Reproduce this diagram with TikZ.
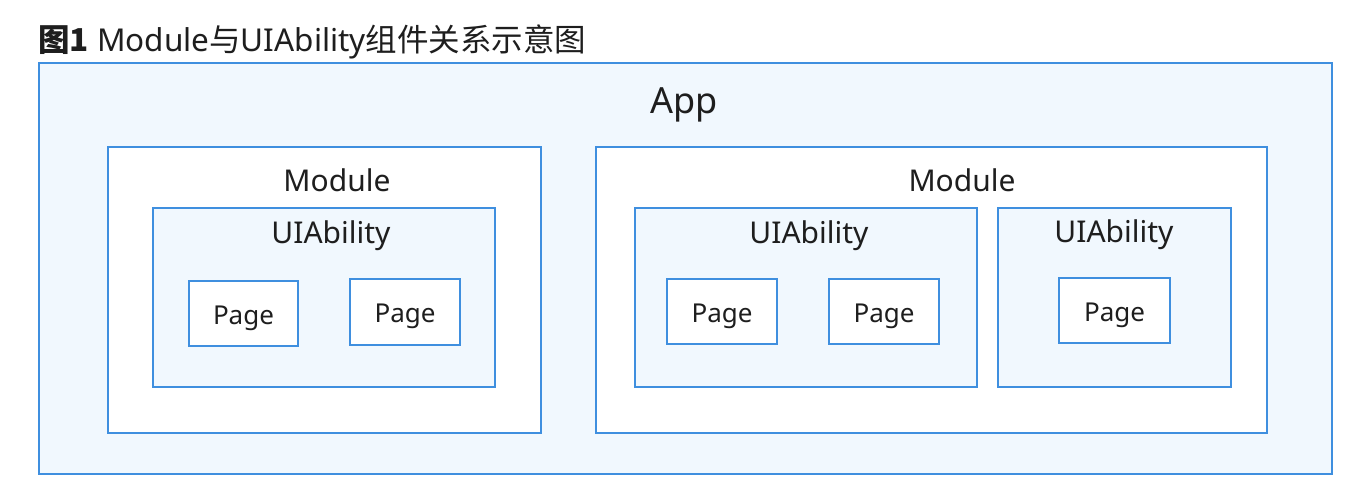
\documentclass[tikz,border=0pt]{standalone}
\usepackage{fontspec}
\setmainfont{Noto Sans}
\newfontfamily\cjk{Noto Sans CJK SC}
\definecolor{bord}{HTML}{3F8FDF}
\definecolor{lightfill}{HTML}{F1F8FE}
\definecolor{txt}{HTML}{1E1E1E}
\tikzset{
  box/.style={draw=bord, line width=2pt, rectangle, inner sep=0pt, anchor=north west},
  lbox/.style={box, fill=lightfill},
  wbox/.style={box, fill=white},
  lab/.style={text=txt, inner sep=0pt, anchor=base},
  big/.style={lab, font=\fontsize{30}{32}\selectfont},
  pg/.style={lab, font=\fontsize{26}{28}\selectfont},
}
\begin{document}
\begin{tikzpicture}[x=1pt,y=-1pt]
\useasboundingbox (0,0) rectangle (1354,493);
\fill[white] (0,0) rectangle (1354,493);
\node[anchor=base west, text=txt, inner sep=0pt, font=\fontsize{31.5}{34}\selectfont] (title) at (38,51) {{\cjk\bfseries 图1} Module{\cjk 与}UIAbility{\cjk 组件关系示意图}};
\node[lbox, minimum width=1293pt, minimum height=411pt] (app) at (38,62) {};
\node[lab, font=\fontsize{36}{38}\selectfont] (applab) at (684,113) {App};
% module 1
\node[wbox, minimum width=433pt, minimum height=286pt] (m1) at (107,146) {};
\node[big] (m1lab) at (337,191) {Module};
\node[lbox, minimum width=342pt, minimum height=179pt] (u1) at (152,207) {};
\node[big] (u1lab) at (331,243) {UIAbility};
\node[wbox, minimum width=109pt, minimum height=65pt] (p1) at (188,280) {};
\node[pg] (p1lab) at ([yshift=-10.5pt]p1.center) {Page};
\node[wbox, minimum width=110pt, minimum height=66pt] (p2) at (349,278) {};
\node[pg] (p2lab) at ([yshift=-10.5pt]p2.center) {Page};
% module 2
\node[wbox, minimum width=671pt, minimum height=286pt] (m2) at (595,146) {};
\node[big] (m2lab) at (962,191) {Module};
\node[lbox, minimum width=342pt, minimum height=179pt] (u2) at (634,207) {};
\node[big] (u2lab) at (809,243) {UIAbility};
\node[wbox, minimum width=110pt, minimum height=65pt] (p3) at (666,278) {};
\node[pg] (p3lab) at ([yshift=-10.5pt]p3.center) {Page};
\node[wbox, minimum width=110pt, minimum height=65pt] (p4) at (828,278) {};
\node[pg] (p4lab) at ([yshift=-10.5pt]p4.center) {Page};
\node[lbox, minimum width=233pt, minimum height=179pt] (u3) at (997,207) {};
\node[big] (u3lab) at (1114,242) {UIAbility};
\node[wbox, minimum width=111pt, minimum height=65pt] (p5) at (1058,277) {};
\node[pg] (p5lab) at ([yshift=-10.5pt]p5.center) {Page};
\end{tikzpicture}
\end{document}
